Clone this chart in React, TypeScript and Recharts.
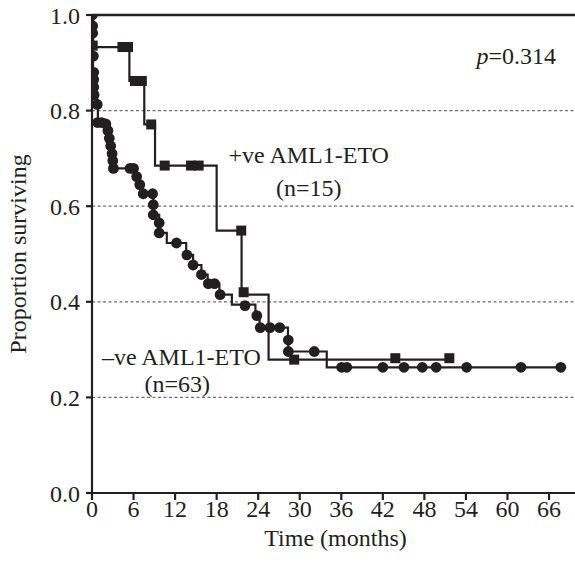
import React from 'react';
import { ComposedChart, Line, Scatter, XAxis, YAxis, ReferenceLine, ReferenceDot } from 'recharts';

const xTicks = [0, 6, 12, 18, 24, 30, 36, 42, 48, 54, 60, 66];
const yTicks = [0, 0.2, 0.4, 0.6, 0.8, 1.0];
const gridLevels = [0.2, 0.4, 0.6, 0.8];

// +ve AML1-ETO (n=15) Kaplan-Meier step vertices
const posCurve = [
  { t: 0, s: 1.0 },
  { t: 0.15, s: 0.933 },
  { t: 5.4, s: 0.862 },
  { t: 7.55, s: 0.771 },
  { t: 9.1, s: 0.685 },
  { t: 18.0, s: 0.549 },
  { t: 21.6, s: 0.415 },
  { t: 25.5, s: 0.279 },
  { t: 51.6, s: 0.279 },
];
const posMarks = [
  { t: 0.1, s: 0.936 },
  { t: 4.4, s: 0.933 },
  { t: 5.2, s: 0.933 },
  { t: 6.2, s: 0.862 },
  { t: 7.2, s: 0.862 },
  { t: 8.55, s: 0.771 },
  { t: 10.5, s: 0.685 },
  { t: 14.3, s: 0.685 },
  { t: 15.4, s: 0.685 },
  { t: 21.55, s: 0.549 },
  { t: 21.9, s: 0.42 },
  { t: 29.2, s: 0.279 },
  { t: 43.8, s: 0.282 },
  { t: 51.6, s: 0.282 },
];

// -ve AML1-ETO (n=63) Kaplan-Meier step vertices
const negCurve = [
  { t: 0, s: 1.0 },
  { t: 0.15, s: 0.83 },
  { t: 0.75, s: 0.813 },
  { t: 0.85, s: 0.775 },
  { t: 2.25, s: 0.758 },
  { t: 2.45, s: 0.742 },
  { t: 2.65, s: 0.726 },
  { t: 2.85, s: 0.71 },
  { t: 3.0, s: 0.695 },
  { t: 3.15, s: 0.679 },
  { t: 6.3, s: 0.662 },
  { t: 6.8, s: 0.645 },
  { t: 7.3, s: 0.626 },
  { t: 8.85, s: 0.603 },
  { t: 8.9, s: 0.582 },
  { t: 9.7, s: 0.565 },
  { t: 9.75, s: 0.544 },
  { t: 10.8, s: 0.523 },
  { t: 13.6, s: 0.498 },
  { t: 14.6, s: 0.477 },
  { t: 15.8, s: 0.457 },
  { t: 16.7, s: 0.438 },
  { t: 18.4, s: 0.415 },
  { t: 20.2, s: 0.394 },
  { t: 23.6, s: 0.371 },
  { t: 24.2, s: 0.346 },
  { t: 28.3, s: 0.32 },
  { t: 28.35, s: 0.296 },
  { t: 33.9, s: 0.263 },
  { t: 67.7, s: 0.263 },
];
const negMarks = [
  { t: 0.05, s: 1.0 }, { t: 0.1, s: 0.977 }, { t: 0.1, s: 0.962 }, { t: 0.2, s: 0.914 },
  { t: 0.25, s: 0.88 }, { t: 0.25, s: 0.865 }, { t: 0.25, s: 0.849 }, { t: 0.3, s: 0.833 },
  { t: 0.75, s: 0.813 }, { t: 0.8, s: 0.775 }, { t: 1.4, s: 0.775 }, { t: 2.0, s: 0.772 },
  { t: 2.3, s: 0.758 }, { t: 2.5, s: 0.742 }, { t: 2.7, s: 0.726 }, { t: 2.9, s: 0.71 },
  { t: 3.0, s: 0.695 }, { t: 3.1, s: 0.679 }, { t: 5.5, s: 0.679 }, { t: 6.0, s: 0.679 },
  { t: 6.45, s: 0.662 }, { t: 6.9, s: 0.645 }, { t: 7.4, s: 0.626 }, { t: 8.75, s: 0.626 },
  { t: 8.85, s: 0.603 }, { t: 8.85, s: 0.582 }, { t: 9.7, s: 0.565 }, { t: 9.7, s: 0.544 },
  { t: 12.2, s: 0.523 }, { t: 13.7, s: 0.498 }, { t: 14.6, s: 0.477 }, { t: 15.8, s: 0.457 },
  { t: 16.8, s: 0.438 }, { t: 17.7, s: 0.438 }, { t: 18.5, s: 0.415 }, { t: 22.1, s: 0.392 },
  { t: 23.8, s: 0.371 }, { t: 24.3, s: 0.346 }, { t: 25.7, s: 0.346 }, { t: 27.1, s: 0.346 },
  { t: 28.35, s: 0.32 }, { t: 28.35, s: 0.296 }, { t: 32.1, s: 0.296 },
  { t: 36.05, s: 0.263 }, { t: 36.8, s: 0.263 }, { t: 42.0, s: 0.263 }, { t: 45.05, s: 0.263 },
  { t: 47.7, s: 0.263 }, { t: 49.7, s: 0.263 }, { t: 54.1, s: 0.263 }, { t: 61.95, s: 0.263 },
  { t: 67.7, s: 0.263 },
];

// text annotations (anchor positions in data units)
const annotations = [
  { t: 67.0, s: 0.897, text: 'p=0.314', anchor: 'end' },
  { t: 31.3, s: 0.69, text: '+ve AML1-ETO', anchor: 'middle' },
  { t: 31.3, s: 0.622, text: '(n=15)', anchor: 'middle' },
  { t: 12.9, s: 0.267, text: '\u2013ve AML1-ETO', anchor: 'middle' },
  { t: 12.3, s: 0.211, text: '(n=63)', anchor: 'middle' },
];

const INK = '#231f20';
const FONT = '"Liberation Serif", "Times New Roman", serif';
const FS = 24;

const Square = (props: any) => {
  const { cx, cy } = props;
  return <rect x={cx - 5} y={cy - 5} width={10} height={10} fill={INK} />;
};
const Dot = (props: any) => {
  const { cx, cy } = props;
  return <circle cx={cx} cy={cy} r={5.4} fill={INK} />;
};

const makeTextShape = (text: string, anchor: string) => (props: any) => {
  const { cx, cy } = props;
  if (text.startsWith('p=')) {
    return (
      <text x={cx} y={cy} textAnchor={anchor as any} fontFamily={FONT} fontSize={FS} fill={INK}>
        <tspan fontStyle="italic">p</tspan>
        {text.slice(1)}
      </text>
    );
  }
  return (
    <text x={cx} y={cy} textAnchor={anchor as any} fontFamily={FONT} fontSize={FS} fill={INK}>
      {text}
    </text>
  );
};

const YLabel = (props: any) => {
  const { viewBox } = props;
  const x = 26;
  const y = viewBox.y + viewBox.height / 2;
  return (
    <text x={x} y={y} transform={`rotate(-90, ${x}, ${y})`} textAnchor="middle" fontFamily={FONT} fontSize={FS} fill={INK}>
      Proportion surviving
    </text>
  );
};
const XLabel = (props: any) => {
  const { viewBox } = props;
  const x = viewBox.x + viewBox.width / 2 + 2;
  return (
    <text x={x} y={546} textAnchor="middle" fontFamily={FONT} fontSize={FS} fill={INK}>
      Time (months)
    </text>
  );
};

export default function App() {
  return (
    <div style={{ position: 'absolute', left: 0, top: 0, width: 575, height: 575, background: '#fff' }}>
      <ComposedChart width={575} height={575} margin={{ top: 15, right: 0, bottom: 0, left: 0 }}>
        <XAxis
          dataKey="t"
          type="number"
          domain={[0, 69.75]}
          ticks={xTicks}
          interval={0}
          allowDataOverflow
          height={82}
          axisLine={{ stroke: INK, strokeWidth: 2.2 }}
          tickLine={{ stroke: INK, strokeWidth: 2.2 }}
          tickSize={7}
          tickMargin={0}
          tick={{ fill: INK, fontFamily: FONT, fontSize: FS }}
          label={<XLabel />}
        />
        <YAxis
          dataKey="s"
          type="number"
          domain={[0, 1]}
          ticks={yTicks}
          interval={0}
          allowDataOverflow
          width={92}
          axisLine={{ stroke: INK, strokeWidth: 2.2 }}
          tickLine={{ stroke: INK, strokeWidth: 2.2 }}
          tickSize={6}
          tickMargin={6}
          tickFormatter={(v: number) => v.toFixed(1)}
          tick={{ fill: INK, fontFamily: FONT, fontSize: FS }}
          label={<YLabel />}
        />
        {gridLevels.map((g) => (
          <ReferenceLine key={g} y={g} stroke="#6d6e71" strokeWidth={1.3} strokeDasharray="3 2.5" />
        ))}
        <ReferenceLine y={1} stroke={INK} strokeWidth={2.6} />
        <Line data={posCurve} dataKey="s" type="stepAfter" stroke={INK} strokeWidth={2.2} dot={false} isAnimationActive={false} />
        <Line data={negCurve} dataKey="s" type="stepAfter" stroke={INK} strokeWidth={2.2} dot={false} isAnimationActive={false} />
        <Scatter data={posMarks} dataKey="s" shape={<Square />} isAnimationActive={false} />
        <Scatter data={negMarks} dataKey="s" shape={<Dot />} isAnimationActive={false} />
        {annotations.map((a) => (
          <ReferenceDot key={a.text} x={a.t} y={a.s} r={0} shape={makeTextShape(a.text, a.anchor)} />
        ))}
      </ComposedChart>
    </div>
  );
}
